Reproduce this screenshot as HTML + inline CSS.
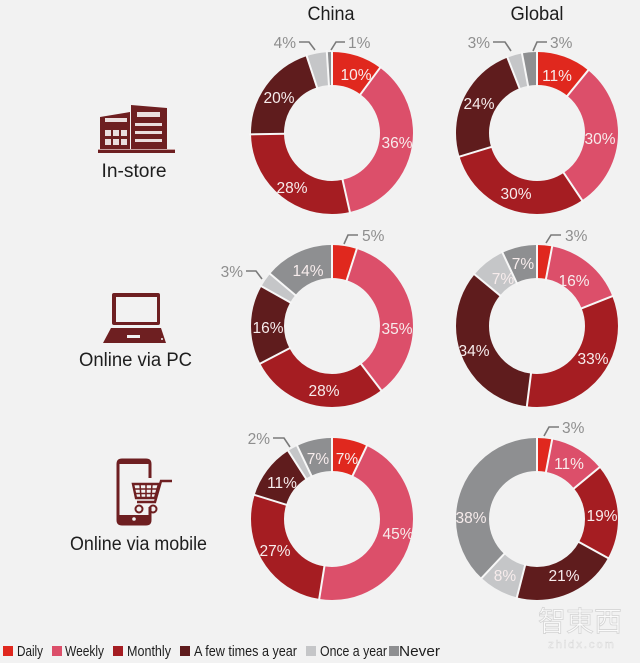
<!DOCTYPE html>
<html>
<head>
<meta charset="utf-8">
<style>
html,body{margin:0;padding:0;background:#f2f2f2;}
svg{display:block;}
text{font-family:"Liberation Sans","Noto Sans CJK SC",sans-serif;}
.in{fill:#f7ecec;font-size:15.5px;text-anchor:middle;}
.out{fill:#8e8e8e;font-size:15.5px;}
.ld{fill:none;stroke:#7a7a7a;stroke-width:1.6;}
.sep{stroke:#f7f7f7;stroke-width:2;}
.hd{fill:#1e1e1e;font-size:19px;text-anchor:middle;}
.lg{fill:#1e1e1e;font-size:15px;}
</style>
</head>
<body>
<svg width="640" height="663" viewBox="0 0 640 663" xmlns="http://www.w3.org/2000/svg">
<rect width="640" height="663" fill="#f2f2f2"/>

<!-- headers -->
<text class="hd" x="331" y="20" textLength="47" lengthAdjust="spacingAndGlyphs">China</text>
<text class="hd" x="537" y="20" textLength="53" lengthAdjust="spacingAndGlyphs">Global</text>

<!-- ============ ROW 1: In-store ============ -->
<g transform="translate(332,133)">
 <g transform="rotate(-90)" fill="none" stroke-width="33">
  <circle r="64.5" pathLength="99" stroke="#8e8f91" stroke-dasharray="0.95 98.05" stroke-dashoffset="-98"/>
  <circle r="64.5" pathLength="99" stroke="#c5c6c8" stroke-dasharray="4 95" stroke-dashoffset="-94"/>
  <circle r="64.5" pathLength="99" stroke="#5f1c1d" stroke-dasharray="20 79" stroke-dashoffset="-74"/>
  <circle r="64.5" pathLength="99" stroke="#a51d22" stroke-dasharray="28 71" stroke-dashoffset="-46"/>
  <circle r="64.5" pathLength="99" stroke="#dc4f6a" stroke-dasharray="36 63" stroke-dashoffset="-10"/>
  <circle r="64.5" pathLength="99" stroke="#e0281e" stroke-dasharray="10 89" stroke-dashoffset="0"/>
 </g>
 <line class="sep" x1="0" y1="-46" x2="0" y2="-83" transform="rotate(0)"/>
 <line class="sep" x1="0" y1="-46" x2="0" y2="-83" transform="rotate(36.36)"/>
 <line class="sep" x1="0" y1="-46" x2="0" y2="-83" transform="rotate(167.27)"/>
 <line class="sep" x1="0" y1="-46" x2="0" y2="-83" transform="rotate(269.09)"/>
 <line class="sep" x1="0" y1="-46" x2="0" y2="-83" transform="rotate(341.82)"/>
 <line class="sep" x1="0" y1="-46" x2="0" y2="-83" transform="rotate(356.36)"/>
</g>
<text class="in" x="356" y="80">10%</text>
<text class="in" x="397" y="148">36%</text>
<text class="in" x="292" y="193">28%</text>
<text class="in" x="279" y="103">20%</text>
<text class="out" x="296" y="48" text-anchor="end" fill="#9d9d9d">4%</text>
<polyline class="ld" points="299,42 309,42 315,50"/>
<text class="out" x="348" y="48">1%</text>
<polyline class="ld" points="345,42 336,42 331,50"/>

<g transform="translate(537,133)">
 <g transform="rotate(-90)" fill="none" stroke-width="33">
  <circle r="64.5" pathLength="101" stroke="#8e8f91" stroke-dasharray="2.95 98.05" stroke-dashoffset="-98"/>
  <circle r="64.5" pathLength="101" stroke="#c5c6c8" stroke-dasharray="3 98" stroke-dashoffset="-95"/>
  <circle r="64.5" pathLength="101" stroke="#5f1c1d" stroke-dasharray="24 77" stroke-dashoffset="-71"/>
  <circle r="64.5" pathLength="101" stroke="#a51d22" stroke-dasharray="30 71" stroke-dashoffset="-41"/>
  <circle r="64.5" pathLength="101" stroke="#dc4f6a" stroke-dasharray="30 71" stroke-dashoffset="-11"/>
  <circle r="64.5" pathLength="101" stroke="#e0281e" stroke-dasharray="11 90" stroke-dashoffset="0"/>
 </g>
 <line class="sep" x1="0" y1="-46" x2="0" y2="-83" transform="rotate(0)"/>
 <line class="sep" x1="0" y1="-46" x2="0" y2="-83" transform="rotate(39.21)"/>
 <line class="sep" x1="0" y1="-46" x2="0" y2="-83" transform="rotate(146.14)"/>
 <line class="sep" x1="0" y1="-46" x2="0" y2="-83" transform="rotate(253.07)"/>
 <line class="sep" x1="0" y1="-46" x2="0" y2="-83" transform="rotate(338.61)"/>
 <line class="sep" x1="0" y1="-46" x2="0" y2="-83" transform="rotate(349.31)"/>
</g>
<text class="in" x="557" y="81">11%</text>
<text class="in" x="600" y="144">30%</text>
<text class="in" x="516" y="199">30%</text>
<text class="in" x="479" y="109">24%</text>
<text class="out" x="490" y="48" text-anchor="end" fill="#9d9d9d">3%</text>
<polyline class="ld" points="493,42 505,42 511,51"/>
<text class="out" x="550" y="48">3%</text>
<polyline class="ld" points="547,42 537,42 533,51"/>

<!-- ============ ROW 2: PC ============ -->
<g transform="translate(332,326)">
 <g transform="rotate(-90)" fill="none" stroke-width="33">
  <circle r="64.5" pathLength="101" stroke="#8e8f91" stroke-dasharray="13.95 87.05" stroke-dashoffset="-87"/>
  <circle r="64.5" pathLength="101" stroke="#c5c6c8" stroke-dasharray="3 98" stroke-dashoffset="-84"/>
  <circle r="64.5" pathLength="101" stroke="#5f1c1d" stroke-dasharray="16 85" stroke-dashoffset="-68"/>
  <circle r="64.5" pathLength="101" stroke="#a51d22" stroke-dasharray="28 73" stroke-dashoffset="-40"/>
  <circle r="64.5" pathLength="101" stroke="#dc4f6a" stroke-dasharray="35 66" stroke-dashoffset="-5"/>
  <circle r="64.5" pathLength="101" stroke="#e0281e" stroke-dasharray="5 96" stroke-dashoffset="0"/>
 </g>
 <line class="sep" x1="0" y1="-46" x2="0" y2="-83" transform="rotate(0)"/>
 <line class="sep" x1="0" y1="-46" x2="0" y2="-83" transform="rotate(17.82)"/>
 <line class="sep" x1="0" y1="-46" x2="0" y2="-83" transform="rotate(142.57)"/>
 <line class="sep" x1="0" y1="-46" x2="0" y2="-83" transform="rotate(242.38)"/>
 <line class="sep" x1="0" y1="-46" x2="0" y2="-83" transform="rotate(299.41)"/>
 <line class="sep" x1="0" y1="-46" x2="0" y2="-83" transform="rotate(310.10)"/>
</g>
<text class="in" x="397" y="334">35%</text>
<text class="in" x="324" y="396">28%</text>
<text class="in" x="268" y="333">16%</text>
<text class="in" x="308" y="276">14%</text>
<text class="out" x="362" y="241">5%</text>
<polyline class="ld" points="358,235 348,235 344,244"/>
<text class="out" x="243" y="277" text-anchor="end" fill="#9d9d9d">3%</text>
<polyline class="ld" points="246,271 256,271 262,279"/>

<g transform="translate(537,326)">
 <g transform="rotate(-90)" fill="none" stroke-width="33">
  <circle r="64.5" pathLength="100" stroke="#8e8f91" stroke-dasharray="6.95 93.05" stroke-dashoffset="-93"/>
  <circle r="64.5" pathLength="100" stroke="#c5c6c8" stroke-dasharray="7 93" stroke-dashoffset="-86"/>
  <circle r="64.5" pathLength="100" stroke="#5f1c1d" stroke-dasharray="34 66" stroke-dashoffset="-52"/>
  <circle r="64.5" pathLength="100" stroke="#a51d22" stroke-dasharray="33 67" stroke-dashoffset="-19"/>
  <circle r="64.5" pathLength="100" stroke="#dc4f6a" stroke-dasharray="16 84" stroke-dashoffset="-3"/>
  <circle r="64.5" pathLength="100" stroke="#e0281e" stroke-dasharray="3 97" stroke-dashoffset="0"/>
 </g>
 <line class="sep" x1="0" y1="-46" x2="0" y2="-83" transform="rotate(0)"/>
 <line class="sep" x1="0" y1="-46" x2="0" y2="-83" transform="rotate(10.8)"/>
 <line class="sep" x1="0" y1="-46" x2="0" y2="-83" transform="rotate(68.4)"/>
 <line class="sep" x1="0" y1="-46" x2="0" y2="-83" transform="rotate(187.2)"/>
 <line class="sep" x1="0" y1="-46" x2="0" y2="-83" transform="rotate(309.6)"/>
 <line class="sep" x1="0" y1="-46" x2="0" y2="-83" transform="rotate(334.8)"/>
</g>
<text class="in" x="574" y="286">16%</text>
<text class="in" x="593" y="364">33%</text>
<text class="in" x="474" y="356">34%</text>
<text class="in" x="503" y="284">7%</text>
<text class="in" x="523" y="269">7%</text>
<text class="out" x="565" y="241">3%</text>
<polyline class="ld" points="561,235 551,235 546,243"/>

<!-- ============ ROW 3: mobile ============ -->
<g transform="translate(332,519)">
 <g transform="rotate(-90)" fill="none" stroke-width="33">
  <circle r="64.5" pathLength="99" stroke="#8e8f91" stroke-dasharray="6.95 92.05" stroke-dashoffset="-92"/>
  <circle r="64.5" pathLength="99" stroke="#c5c6c8" stroke-dasharray="2 97" stroke-dashoffset="-90"/>
  <circle r="64.5" pathLength="99" stroke="#5f1c1d" stroke-dasharray="11 88" stroke-dashoffset="-79"/>
  <circle r="64.5" pathLength="99" stroke="#a51d22" stroke-dasharray="27 72" stroke-dashoffset="-52"/>
  <circle r="64.5" pathLength="99" stroke="#dc4f6a" stroke-dasharray="45 54" stroke-dashoffset="-7"/>
  <circle r="64.5" pathLength="99" stroke="#e0281e" stroke-dasharray="7 92" stroke-dashoffset="0"/>
 </g>
 <line class="sep" x1="0" y1="-46" x2="0" y2="-83" transform="rotate(0)"/>
 <line class="sep" x1="0" y1="-46" x2="0" y2="-83" transform="rotate(25.45)"/>
 <line class="sep" x1="0" y1="-46" x2="0" y2="-83" transform="rotate(189.09)"/>
 <line class="sep" x1="0" y1="-46" x2="0" y2="-83" transform="rotate(287.27)"/>
 <line class="sep" x1="0" y1="-46" x2="0" y2="-83" transform="rotate(327.27)"/>
 <line class="sep" x1="0" y1="-46" x2="0" y2="-83" transform="rotate(334.55)"/>
</g>
<text class="in" x="347" y="464">7%</text>
<text class="in" x="398" y="539">45%</text>
<text class="in" x="275" y="556">27%</text>
<text class="in" x="282" y="488">11%</text>
<text class="in" x="318" y="464">7%</text>
<text class="out" x="270" y="444" text-anchor="end" fill="#9d9d9d">2%</text>
<polyline class="ld" points="273,438 284,438 290,447"/>

<g transform="translate(537,519)">
 <g transform="rotate(-90)" fill="none" stroke-width="33">
  <circle r="64.5" pathLength="100" stroke="#8e8f91" stroke-dasharray="37.95 62.05" stroke-dashoffset="-62"/>
  <circle r="64.5" pathLength="100" stroke="#c5c6c8" stroke-dasharray="8 92" stroke-dashoffset="-54"/>
  <circle r="64.5" pathLength="100" stroke="#5f1c1d" stroke-dasharray="21 79" stroke-dashoffset="-33"/>
  <circle r="64.5" pathLength="100" stroke="#a51d22" stroke-dasharray="19 81" stroke-dashoffset="-14"/>
  <circle r="64.5" pathLength="100" stroke="#dc4f6a" stroke-dasharray="11 89" stroke-dashoffset="-3"/>
  <circle r="64.5" pathLength="100" stroke="#e0281e" stroke-dasharray="3 97" stroke-dashoffset="0"/>
 </g>
 <line class="sep" x1="0" y1="-46" x2="0" y2="-83" transform="rotate(0)"/>
 <line class="sep" x1="0" y1="-46" x2="0" y2="-83" transform="rotate(10.8)"/>
 <line class="sep" x1="0" y1="-46" x2="0" y2="-83" transform="rotate(50.4)"/>
 <line class="sep" x1="0" y1="-46" x2="0" y2="-83" transform="rotate(118.8)"/>
 <line class="sep" x1="0" y1="-46" x2="0" y2="-83" transform="rotate(194.4)"/>
 <line class="sep" x1="0" y1="-46" x2="0" y2="-83" transform="rotate(223.2)"/>
</g>
<text class="in" x="569" y="469">11%</text>
<text class="in" x="602" y="521">19%</text>
<text class="in" x="564" y="581">21%</text>
<text class="in" x="505" y="581">8%</text>
<text class="in" x="471" y="523">38%</text>
<text class="out" x="562" y="433">3%</text>
<polyline class="ld" points="559,427 549,427 544,436"/>

<!-- ============ ICONS & ROW TITLES ============ -->
<g fill="#6e1f21">
 <polygon points="100,117 130,112 130,150 100,150"/>
 <polygon points="131,105 167,108 167,150 131,150"/>
 <rect x="98" y="149" width="77" height="4"/>
</g>
<g fill="#eadede">
 <rect x="105" y="118" width="22" height="4"/>
 <rect x="105" y="130" width="6" height="6"/>
 <rect x="113" y="130" width="6" height="6"/>
 <rect x="121" y="130" width="6" height="6"/>
 <rect x="105" y="139" width="6" height="6"/>
 <rect x="113" y="139" width="6" height="6"/>
 <rect x="121" y="139" width="6" height="6"/>
 <rect x="137" y="112" width="23" height="5"/>
 <rect x="135" y="123" width="27" height="3"/>
 <rect x="135" y="131" width="27" height="3"/>
 <rect x="135" y="139" width="27" height="3"/>
 <rect x="98" y="149" width="77" height="1" fill="#c9a0a0"/>
</g>
<text x="134" y="177" fill="#1e1e1e" font-size="19" text-anchor="middle" textLength="65" lengthAdjust="spacingAndGlyphs">In-store</text>

<rect x="112" y="293" width="48" height="32" rx="2" fill="#6e1f21"/>
<rect x="116" y="297" width="41" height="25" fill="#f2f2f2"/>
<polygon points="111,328 161,328 166,343 103,343" fill="#6e1f21"/>
<rect x="127" y="335" width="13" height="3" fill="#f2f2f2"/>
<circle cx="162" cy="339" r="1" fill="#f2f2f2"/>
<text x="135.5" y="366" fill="#1e1e1e" font-size="19" text-anchor="middle" textLength="113" lengthAdjust="spacingAndGlyphs">Online via PC</text>

<path d="M150,478 L150,464 Q150,460 146,460 L122,460 Q118,460 118,464 L118,520 Q118,524 122,524 L146,524 Q150,524 150,520 L150,507" fill="none" stroke="#6e1f21" stroke-width="3"/>
<rect x="118" y="515" width="32" height="8" fill="#6e1f21"/>
<circle cx="134" cy="519" r="1.8" fill="#f2f2f2"/>
<rect x="118" y="460" width="32" height="4" rx="2" fill="#6e1f21"/>
<g fill="none" stroke="#6e1f21" stroke-width="2.4">
 <polyline points="172,481 161,481 155,502 137,502"/>
 <polygon points="133,484 159,484 155,498 136,498"/>
 <line x1="134" y1="489" x2="158" y2="489" stroke-width="1.5"/>
 <line x1="135" y1="493.5" x2="157" y2="493.5" stroke-width="1.5"/>
 <line x1="140" y1="484" x2="141" y2="498" stroke-width="1.5"/>
 <line x1="146" y1="484" x2="146" y2="498" stroke-width="1.5"/>
 <line x1="152" y1="484" x2="151" y2="498" stroke-width="1.5"/>
 <circle cx="139" cy="509" r="3.5" stroke-width="2"/>
 <circle cx="153" cy="509" r="3.5" stroke-width="2"/>
</g>
<text x="138.5" y="550" fill="#1e1e1e" font-size="19" text-anchor="middle" textLength="137" lengthAdjust="spacingAndGlyphs">Online via mobile</text>

<!-- ============ WATERMARK ============ -->
<text x="580" y="631" font-size="28" text-anchor="middle" fill="#fbfbfb" stroke="#d4d4d4" stroke-width="0.8" font-family="'Noto Sans CJK SC',sans-serif">智東西</text>
<text x="582" y="648" font-size="11" text-anchor="middle" fill="#fbfbfb" stroke="#d8d8d8" stroke-width="0.5" letter-spacing="2">zhidx.com</text>

<!-- ============ LEGEND ============ -->
<rect x="3" y="646" width="10" height="10" fill="#e0281e"/>
<text class="lg" x="17" y="656" textLength="26" lengthAdjust="spacingAndGlyphs">Daily</text>
<rect x="52" y="646" width="10" height="10" fill="#dc4f6a"/>
<text class="lg" x="65" y="656" textLength="39" lengthAdjust="spacingAndGlyphs">Weekly</text>
<rect x="113" y="646" width="10" height="10" fill="#a51d22"/>
<text class="lg" x="127" y="656" textLength="44" lengthAdjust="spacingAndGlyphs">Monthly</text>
<rect x="180" y="646" width="10" height="10" fill="#5f1c1d"/>
<text class="lg" x="194" y="656" textLength="103" lengthAdjust="spacingAndGlyphs">A few times a year</text>
<rect x="306" y="646" width="10" height="10" fill="#c5c6c8"/>
<text class="lg" x="320" y="656" textLength="67" lengthAdjust="spacingAndGlyphs">Once a year</text>
<rect x="389" y="646" width="10" height="10" fill="#8e8f91"/>
<text class="lg" x="399" y="656" textLength="41" lengthAdjust="spacingAndGlyphs">Never</text>
</svg>
</body>
</html>
